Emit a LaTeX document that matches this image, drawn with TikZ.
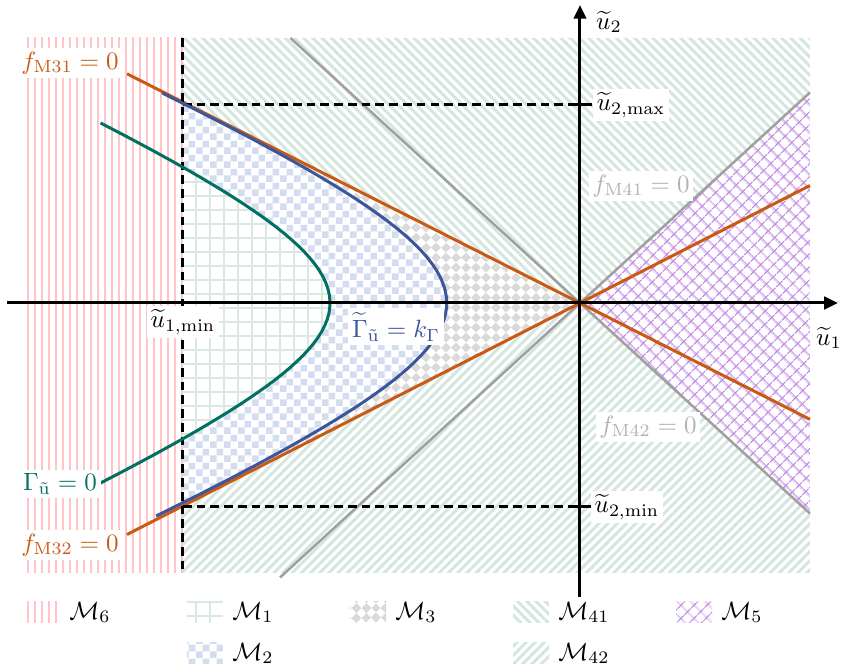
\documentclass[tikz,border=0pt]{standalone}
\usepackage{tikz}
\usetikzlibrary{positioning, arrows.meta, patterns.meta}
\definecolor{orangeM}{RGB}{200, 90, 20}
\definecolor{blueM}{RGB}{60, 85, 155}
\definecolor{greenM}{RGB}{0, 112, 96}
\definecolor{grayM}{RGB}{160, 160, 160}
\definecolor{labelgray}{RGB}{178, 178, 178}
\definecolor{pinkM}{RGB}{255, 196, 200}
\definecolor{gridM}{RGB}{218, 232, 226}
\definecolor{checkM}{RGB}{212, 220, 240}
\definecolor{diamondM}{RGB}{218, 218, 218}
\definecolor{stripeM}{RGB}{212, 230, 222}
\definecolor{purpleM}{RGB}{192, 140, 228}

\pgfdeclarepattern{
  name=checker,
  type=uncolored,
  bottom left={\pgfpointorigin},
  top right={\pgfqpoint{5.6pt}{5.6pt}},
  tile size={\pgfqpoint{5.6pt}{5.6pt}},
  code={
    \pgfpathrectangle{\pgfpointorigin}{\pgfqpoint{2.8pt}{2.8pt}}
    \pgfpathrectangle{\pgfqpoint{2.8pt}{2.8pt}}{\pgfqpoint{2.8pt}{2.8pt}}
    \pgfusepath{fill}
  }
}
\pgfdeclarepattern{
  name=diamonds,
  type=uncolored,
  bottom left={\pgfpointorigin},
  top right={\pgfqpoint{5.6pt}{5.6pt}},
  tile size={\pgfqpoint{5.6pt}{5.6pt}},
  tile transformation={\pgftransformrotate{45}},
  code={
    \pgfpathrectangle{\pgfpointorigin}{\pgfqpoint{2.8pt}{2.8pt}}
    \pgfpathrectangle{\pgfqpoint{2.8pt}{2.8pt}}{\pgfqpoint{2.8pt}{2.8pt}}
    \pgfusepath{fill}
  }
}

\begin{document}
\begin{tikzpicture}[x=0.4pt, y=0.4pt, node distance=0.3cm,
    axisline/.style={line width=1.2pt, black},
    boundline/.style={line width=1.2pt, black, dash pattern=on 3.5pt off 2pt},
    curveline/.style={line width=1.2pt},
    grayline/.style={line width=1pt, grayM},
    lbl/.style={fill=white, inner sep=1.5pt},
    legbox/.style={minimum width=14.4pt, minimum height=8.4pt, inner sep=0pt},
    regM6/.style={pattern={Lines[angle=90, distance=2.8pt, line width=0.6pt]}, pattern color=pinkM},
    regM1/.style={preaction={fill=white}, pattern={Hatch[angle=0, distance=5.6pt, line width=0.7pt]}, pattern color=gridM},
    regM2/.style={preaction={fill=white}, pattern=checker, pattern color=checkM},
    regM3/.style={pattern=diamonds, pattern color=diamondM},
    regM41/.style={pattern={Lines[angle=-45, distance=2.6pt, line width=1.2pt]}, pattern color=stripeM},
    regM42/.style={pattern={Lines[angle=45, distance=2.6pt, line width=1.2pt]}, pattern color=stripeM},
    regM5/.style={pattern={Hatch[angle=45, distance=4pt, line width=0.5pt]}, pattern color=purpleM}]
    \useasboundingbox (-580,-369) rectangle (261,303);

    % key points
    \coordinate (O) at (0,0);
    \coordinate (minTL) at (-397,198);
    \coordinate (minBL) at (-397,-204);
    \coordinate (maxR) at (0,198);
    \coordinate (minR) at (0,-204);
    \coordinate (dashTop) at (-397,265);
    \coordinate (dashBot) at (-397,-270);
    \coordinate (oA) at (-453,229.2);
    \coordinate (oB) at (230,-116.4);
    \coordinate (oC) at (-453,-231.5);
    \coordinate (oD) at (230,117.5);
    \coordinate (gA) at (-289.6,265);
    \coordinate (gB) at (230,-210.5);
    \coordinate (gC) at (-300,-274.5);
    \coordinate (gD) at (230,210.5);

    % regions
    \fill [regM6] (-556,-270) rectangle (dashTop);
    \fill [regM41] (dashTop) -- (230,265) -- (gD) -- (O) -- (-397,200.9) -- cycle;
    \fill [regM42] (dashBot) -- (230,-270) -- (gB) -- (O) -- (-397,-202.9) -- cycle;
    \fill [regM5] (O) -- (gD) -- (gB) -- cycle;
    \fill [regM3] (O) -- (-397,200.9) -- (-397,-202.9) -- cycle;
    \fill [regM2] (-397,199.7) -- plot [domain=199.7:-199.7, samples=80] ({143.7-277*sqrt(1+(\x/119.1)*(\x/119.1))}, \x) -- cycle;
    \fill [regM1] (-397,135.7) -- plot [domain=135.7:-135.7, samples=60] ({-250*sqrt(1+(\x/110)*(\x/110))}, \x) -- cycle;

    % boundaries
    \draw [grayline] (gA) -- (gB);
    \draw [grayline] (gC) -- (gD);
    \draw [curveline, orangeM] (oA) -- (oB);
    \draw [curveline, orangeM] (oC) -- (oD);
    \draw [boundline] (dashTop) -- (dashBot);
    \draw [boundline] (minTL) -- (maxR);
    \draw [boundline] (minBL) -- (minR);
    \draw [curveline, blueM] plot [domain=210:-213, samples=80] ({143.7-277*sqrt(1+(\x/119.1)*(\x/119.1))}, \x);
    \draw [curveline, greenM] plot [domain=180:-182, samples=60] ({-250*sqrt(1+(\x/110)*(\x/110))}, \x);

    % axes
    \coordinate (xL) at (-573,0);
    \coordinate (xR) at (258,0);
    \coordinate (yB) at (0,-294);
    \coordinate (yT) at (0,298);
    \draw [axisline, -{Triangle[length=5.5pt, width=5pt]}] (xL) -- (xR);
    \draw [axisline, -{Triangle[length=5.5pt, width=5pt]}] (yB) -- (yT);
    \draw [axisline] (-12,198) -- (12,198);
    \draw [axisline] (-12,-204) -- (12,-204);

    % labels
    \node [lbl, text=orangeM] (lblM31) at (-510,240) {$f_{\mathrm{M31}}=0$};
    \node [lbl, text=orangeM] (lblM32) at (-510,-242) {$f_{\mathrm{M32}}=0$};
    \node [lbl, text=greenM] (lblGz) at (-520,-181) {$\Gamma_{\tilde{\mathrm{u}}}=0$};
    \node [lbl, text=blueM] (lblGk) at (-184,-24) {$\widetilde{\Gamma}_{\tilde{\mathrm{u}}}=k_{\Gamma}$};
    \node [lbl] (lblumin1) at (-397,-19) {$\widetilde{u}_{1,\min}$};
    \node [lbl] (lblumax2) at (51,198) {$\widetilde{u}_{2,\max}$};
    \node [lbl] (lblumin2) at (47,-204) {$\widetilde{u}_{2,\min}$};
    \node [lbl, text=labelgray] (lblM41) at (61,117) {$f_{\mathrm{M41}}=0$};
    \node [lbl, text=labelgray] (lblM42) at (68,-124) {$f_{\mathrm{M42}}=0$};
    \node (lblu2) at (29,281) {$\widetilde{u}_2$};
    \node (lblu1) at (249,-35) {$\widetilde{u}_1$};

    % legend
    \node [legbox, regM6] (legM6) at (-538,-309.5) {};
    \node [right=0pt of legM6] (txtM6) {$\mathcal{M}_6$};
    \node [legbox, regM1, right=50.4pt of legM6] (legM1) {};
    \node [right=0pt of legM1] (txtM1) {$\mathcal{M}_1$};
    \node [legbox, regM2, below=7.6pt of legM1] (legM2) {};
    \node [right=0pt of legM2] (txtM2) {$\mathcal{M}_2$};
    \node [legbox, regM3, right=50.4pt of legM1] (legM3) {};
    \node [right=0pt of legM3] (txtM3) {$\mathcal{M}_3$};
    \node [legbox, regM41, right=50.4pt of legM3] (legM41) {};
    \node [right=0pt of legM41] (txtM41) {$\mathcal{M}_{41}$};
    \node [legbox, regM42, below=7.6pt of legM41] (legM42) {};
    \node [right=0pt of legM42] (txtM42) {$\mathcal{M}_{42}$};
    \node [legbox, regM5, right=50.4pt of legM41] (legM5) {};
    \node [right=0pt of legM5] (txtM5) {$\mathcal{M}_5$};
\end{tikzpicture}
\end{document}
